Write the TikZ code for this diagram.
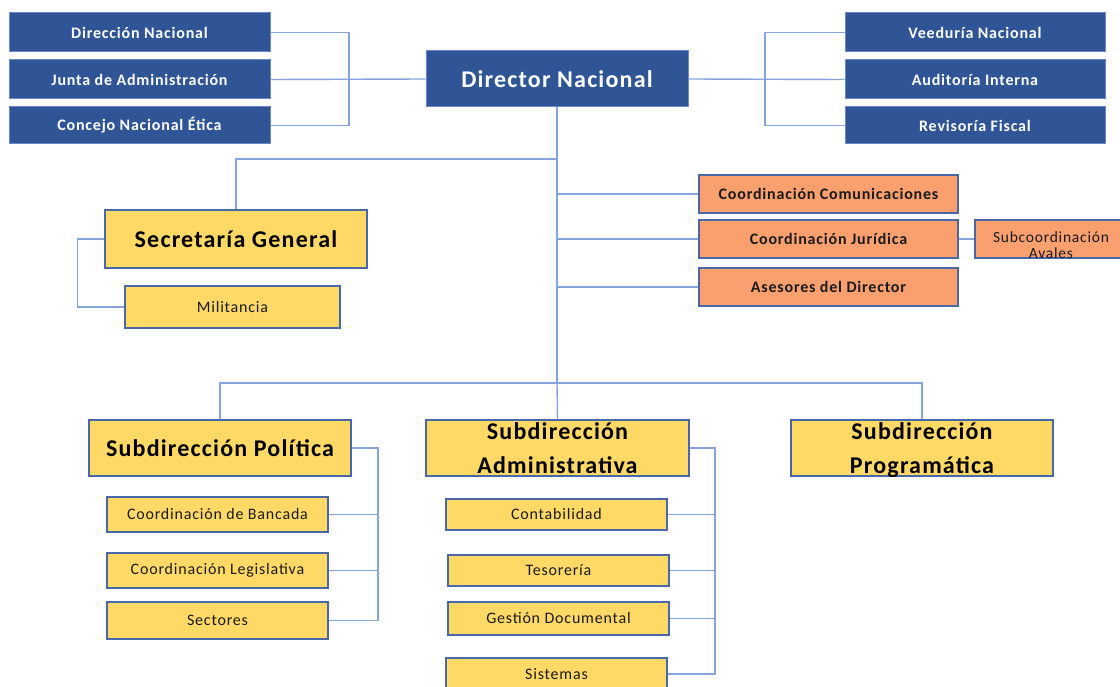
\documentclass[tikz,border=0pt]{standalone}
\usepackage{fontspec}
\setmainfont{Carlito}[LetterSpace=5]
\definecolor{dblue}{HTML}{2F5597}
\definecolor{dborder}{HTML}{6A88C8}
\definecolor{yfill}{HTML}{FFD966}
\definecolor{ofill}{HTML}{F9A06E}
\definecolor{bborder}{HTML}{4A67A8}
\definecolor{conn}{HTML}{86A4DE}
\definecolor{txt}{HTML}{1A1A1A}
\tikzset{
  dbox/.style={rectangle, fill=dblue, draw=dborder, line width=1pt, text=white, inner sep=0pt,
    font=\bfseries\fontsize{16}{19}\selectfont},
  dirbox/.style={dbox, font=\bfseries\fontsize{24}{29}\selectfont},
  ybig/.style={rectangle, fill=yfill, draw=bborder, line width=1.2pt, text=black, inner sep=0pt,
    font=\bfseries\fontsize{24}{34}\selectfont, align=center, text depth=0pt},
  ysmall/.style={rectangle, fill=yfill, draw=bborder, line width=1.2pt, text=txt, inner sep=0pt,
    font=\fontsize{16}{18}\selectfont},
  obox/.style={rectangle, fill=ofill, draw=bborder, line width=1.2pt, text=txt, inner sep=0pt,
    font=\bfseries\fontsize{16}{18}\selectfont},
  osmall/.style={rectangle, fill=ofill, draw=bborder, line width=1.2pt, text=txt, inner sep=0pt},
  link/.style={draw=conn, line width=1.4pt},
}
\begin{document}
\begin{tikzpicture}[x=1pt,y=-1pt]
\useasboundingbox[fill=white] (0,0) rectangle (1120,687);

% top row boxes
\node[dbox, minimum width=261pt, minimum height=39pt] (dn) at (139.5,32.5) {Dirección Nacional};
\node[dbox, minimum width=261pt, minimum height=39pt] (ja) at (139.5,79.5) {Junta de Administración};
\node[dbox, minimum width=261pt, minimum height=37pt] (cn) at (139.5,125.5) {Concejo Nacional Ética};
\node[dirbox, minimum width=262pt, minimum height=56pt] (dir) at (557,79) {Director Nacional};
\node[dbox, minimum width=260pt, minimum height=39pt] (vn) at (975,32.5) {Veeduría Nacional};
\node[dbox, minimum width=260pt, minimum height=39pt] (ai) at (975,79.5) {Auditoría Interna};
\node[dbox, minimum width=260pt, minimum height=37pt] (rf) at (975,125.5) {Revisoría Fiscal};

% secretaria
\node[ybig, minimum width=262pt, minimum height=58pt] (sg) at (236,239) {Secretaría General};
\node[ysmall, minimum width=215pt, minimum height=42pt] (mil) at (232.5,307) {Militancia};

% orange
\node[obox, minimum width=259pt, minimum height=38pt] (cc) at (828.5,194) {Coordinación Comunicaciones};
\node[obox, minimum width=259pt, minimum height=38pt] (cj) at (828.5,239) {Coordinación Jurídica};
\node[obox, minimum width=259pt, minimum height=38pt] (ad) at (828.5,287) {Asesores del Director};
\node[osmall, minimum width=152pt, minimum height=38pt, label={[font=\fontsize{15.5}{16.5}\selectfont, text=txt, align=center, yshift=-6pt]center:Subcoordinación\\Avales}] (sa) at (1051,239) {};

% subdirecciones
\node[ybig, minimum width=262pt, minimum height=56pt] (sp) at (220,448) {Subdirección Política};
\node[ybig, minimum width=263pt, minimum height=56pt] (sadm) at (557.5,448) {Subdirección\\Administrativa};
\node[ybig, minimum width=262pt, minimum height=56pt] (sprog) at (922,448) {Subdirección\\Programática};

\node[ysmall, minimum width=221pt, minimum height=35pt] (cb) at (217.5,514.5) {Coordinación de Bancada};
\node[ysmall, minimum width=221pt, minimum height=35pt] (cl) at (217.5,570.5) {Coordinación Legislativa};
\node[ysmall, minimum width=221pt, minimum height=37pt] (sec) at (217.5,620.5) {Sectores};

\node[ysmall, minimum width=221pt, minimum height=31pt] (cont) at (556.5,514.5) {Contabilidad};
\node[ysmall, minimum width=221pt, minimum height=31pt] (tes) at (558.5,570.5) {Tesorería};
\node[ysmall, minimum width=221pt, minimum height=33pt] (gd) at (558.5,618.5) {Gestión Documental};
\node[ysmall, minimum width=221pt, minimum height=32pt] (sis) at (556.5,674) {Sistemas};

% junction coordinates
\coordinate (lj) at (349,79);
\coordinate (rj) at (765,79);
\coordinate (sgj) at (557,159);
\coordinate (tb) at (557,383);
\coordinate (pj) at (378,448);
\coordinate (aj) at (715,448);

% left group
\draw[link] (dn.east) -| (lj);
\draw[link] (cn.east) -| (lj);
\draw[link] (ja.east) -- (dir.west);
% right group
\draw[link] (vn.west) -| (rj);
\draw[link] (rf.west) -| (rj);
\draw[link] (dir.east) -- (ai.west);
% trunk
\draw[link] (dir.south) -- (tb);
\draw[link] (sgj) -| (sg.north);
\draw[link] (sg.west) -- ++(-27,0) |- (mil.west);
\draw[link] (cc.west) -- (cc.west -| tb);
\draw[link] (cj.west) -- (cj.west -| tb);
\draw[link] (ad.west) -- (ad.west -| tb);
\draw[link] (cj.east) -- (sa.west);
% bottom bar
\draw[link] (sp.north) |- (tb) -| (sprog.north);
\draw[link] (tb) -- (sadm.north);
% politica
\draw[link] (sp.east) -- (pj) |- (sec.east);
\draw[link] (cb.east) -- (cb.east -| pj);
\draw[link] (cl.east) -- (cl.east -| pj);
% administrativa
\draw[link] (sadm.east) -- (aj) |- (sis.east);
\draw[link] (cont.east) -- (cont.east -| aj);
\draw[link] (tes.east) -- (tes.east -| aj);
\draw[link] (gd.east) -- (gd.east -| aj);
\end{tikzpicture}
\end{document}
